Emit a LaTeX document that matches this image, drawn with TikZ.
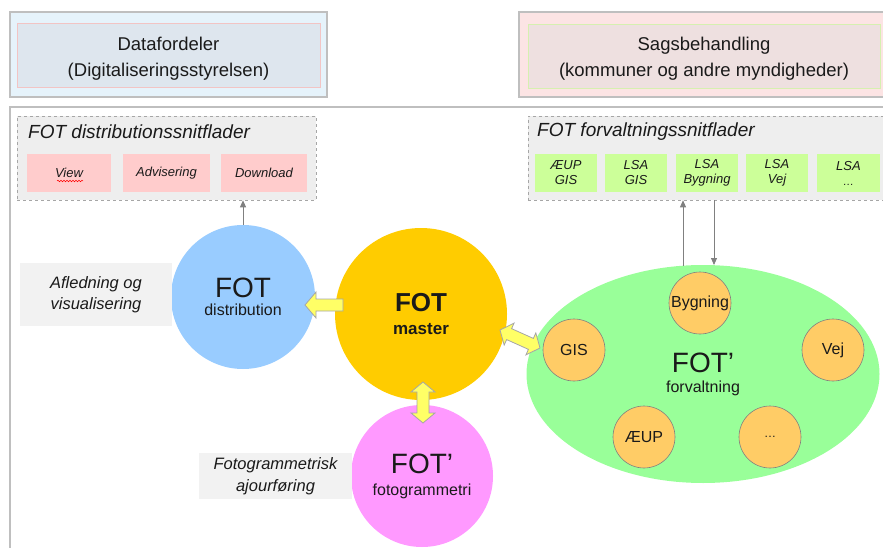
\documentclass[tikz,border=0pt]{standalone}
\usepackage{fontspec}
\setmainfont{Liberation Sans}
\usetikzlibrary{calc,shapes.geometric,arrows.meta,decorations.pathmorphing}
\definecolor{frameGray}{HTML}{BFBFBF}
\definecolor{dashGray}{HTML}{A6A6A6}
\definecolor{dashFill}{HTML}{EEEEEE}
\definecolor{dfOut}{HTML}{E6F3FB}
\definecolor{dfIn}{HTML}{DEE6EE}
\definecolor{dfInBorder}{HTML}{F2C4C4}
\definecolor{sbOut}{HTML}{FCE4E4}
\definecolor{sbIn}{HTML}{EEE0E0}
\definecolor{sbInBorder}{HTML}{D6F0B0}
\definecolor{pinkBox}{HTML}{FFCCCC}
\definecolor{greenBox}{HTML}{CCFF99}
\definecolor{distBlue}{HTML}{99CCFF}
\definecolor{masterYel}{HTML}{FFCC00}
\definecolor{fotoPink}{HTML}{FF99FF}
\definecolor{forvGreen}{HTML}{99FF99}
\definecolor{smallOr}{HTML}{FFCC66}
\definecolor{arrowYel}{HTML}{FFFF66}
\definecolor{labelGray}{HTML}{F2F2F2}
\definecolor{txt}{HTML}{1A1A1A}
\newcommand\fsz[1]{\fontsize{#1}{#1}\selectfont}
\newcommand\singleblock[2]{%
  \coordinate (sbh) at ($(#2)!11pt!(#1)$);
  \filldraw[blockarrow] ($(#1)!6pt!90:(#2)$) -- ($(sbh)!6pt!90:(#2)$) -- ($(sbh)!13pt!90:(#2)$) -- (#2)
     -- ($(sbh)!13pt!-90:(#2)$) -- ($(sbh)!6pt!-90:(#2)$) -- ($(#1)!6pt!-90:(#2)$) -- cycle;}
\newcommand\doubleblock[2]{%
  \coordinate (dbh1) at ($(#1)!10pt!(#2)$);
  \coordinate (dbh2) at ($(#2)!10pt!(#1)$);
  \filldraw[blockarrow] (#1) -- ($(dbh1)!12pt!90:(#2)$) -- ($(dbh1)!6pt!90:(#2)$) -- ($(dbh2)!6pt!90:(#2)$)
     -- ($(dbh2)!12pt!90:(#2)$) -- (#2) -- ($(dbh2)!12pt!-90:(#2)$) -- ($(dbh2)!6pt!-90:(#2)$)
     -- ($(dbh1)!6pt!-90:(#2)$) -- ($(dbh1)!12pt!-90:(#2)$) -- cycle;}
\begin{document}
\begin{tikzpicture}[x=1pt,y=-1pt,
  every node/.style={text=txt, inner sep=0pt},
  topout/.style={draw=frameGray, line width=1.6pt, minimum height=85pt},
  topin/.style={line width=0.8pt, minimum height=64pt},
  toptext/.style={align=center, font=\fsz{18.5}},
  dashbox/.style={draw=dashGray, dashed, fill=dashFill, line width=0.6pt, minimum height=84pt},
  dashtitle/.style={anchor=west, font=\fsz{19}\itshape},
  ifbox/.style={minimum height=38pt, align=center, font=\fsz{13}\itshape},
  bigcircle/.style={circle, align=center},
  smallcirc/.style={circle, draw=gray, line width=0.6pt, fill=smallOr, minimum size=62pt, font=\fsz{16}},
  label/.style={fill=labelGray, align=center, font=\fsz{16.5}\itshape},
  blockarrow/.style={fill=arrowYel, draw=dashGray, line width=0.8pt, line join=miter},
  thin link/.style={draw=gray, line width=0.8pt, -{Triangle[length=7pt,width=6pt]}}
]
\useasboundingbox (0,0) rectangle (883,548);

% top boxes
\node[topout, fill=dfOut, minimum width=317pt] (dfo) at (168.5,54.5) {};
\node[topin, draw=dfInBorder, fill=dfIn, minimum width=303pt] (dfi) at (168.5,55.5) {};
\node[toptext] (dft) at (168.5,58.5) {Datafordeler\\[7pt](Digitaliseringsstyrelsen)};
\node[topout, fill=sbOut, minimum width=380pt] (sbo) at (709,54.5) {};
\node[topin, draw=sbInBorder, fill=sbIn, minimum width=352pt] (sbi) at (704,56) {};
\node[toptext] (sbt) at (704,58.5) {Sagsbehandling\\[7pt](kommuner og andre myndigheder)};

% outer frame
\draw[frameGray, line width=1.6pt] (890,107) -- (10,107) -- (10,560);

% dashed interface boxes
\node[dashbox, minimum width=299pt] (ldash) at (166.5,158) {};
\node[dashtitle] (ltitle) at (28,132) {FOT distributionssnitflader};
\node[ifbox, fill=pinkBox, minimum width=84pt] (view) at (69,173) {View};
\node[ifbox, fill=pinkBox, minimum width=87pt] (advis) at (166.5,173) {Advisering};
\node[ifbox, fill=pinkBox, minimum width=86pt] (down) at (264,173) {Download};
\draw[red, line width=0.5pt, decorate, decoration={snake, amplitude=0.8pt, segment length=3pt}] (57,181) -- (83,181);

\node[dashbox, minimum width=370pt] (rdash) at (713,158) {};
\node[dashtitle] (rtitle) at (537,132) {FOT forvaltningssnitflader};
\node[ifbox, fill=greenBox, minimum width=62pt] (g1) at (566,173) {ÆUP\\[2pt]GIS};
\node[ifbox, fill=greenBox, minimum width=62pt] (g2) at (636,173) {LSA\\[2pt]GIS};
\node[ifbox, fill=greenBox, minimum width=62pt] (g3) at (707,173) {LSA\\[2pt]Bygning};
\node[ifbox, fill=greenBox, minimum width=62pt] (g4) at (777,173) {LSA\\[2pt]Vej};
\node[ifbox, fill=greenBox, minimum width=63pt] (g5) at (848.5,173) {LSA\\[2pt]\fsz{11}…};

% big circles
\node[bigcircle, fill=distBlue, minimum size=144pt] (dist) at (243,297)
  {{\fsz{28}FOT}\\[6pt]{\fsz{16}distribution}};
\node[bigcircle, fill=masterYel, minimum size=172pt] (master) at (421,314)
  {{\fsz{26}\bfseries FOT}\\[11pt]{\fsz{17}\bfseries master}};
\node[bigcircle, fill=fotoPink, minimum size=142pt] (foto) at (422,476)
  {{\fsz{28}FOT’}\\[10pt]{\fsz{16}fotogrammetri}};
\node[ellipse, fill=forvGreen, minimum width=353pt, minimum height=218pt, align=center] (forv) at (703,374)
  {{\fsz{28}FOT’}\\[8pt]{\fsz{16}forvaltning}};

% small circles
\node[smallcirc] (byg) at (700,303) {Bygning};
\node[smallcirc] (gis) at (574,350) {GIS};
\node[smallcirc] (vej) at (833,350) {Vej};
\node[smallcirc] (aeup) at (644,437) {ÆUP};
\node[smallcirc, font=\fsz{12}] (more) at (770,437) {…};

% labels
\node[label, minimum width=152pt, minimum height=63pt] (lab1) at (96,294.5) {Afledning og\\[5pt]visualisering};
\node[label, minimum width=153pt, minimum height=46pt] (lab2) at (275.5,476) {Fotogrammetrisk\\[6pt]ajourføring};

% thin connectors
\draw[thin link] (dist.north) -- (dist.north |- ldash.south);
\coordinate (upS) at (683,266);
\coordinate (dnE) at (714,265);
\draw[thin link] (upS) -- (upS |- rdash.south);
\draw[thin link] (dnE |- rdash.south) -- (dnE);

% block arrows
\coordinate (a1t) at (343,305);
\coordinate (a1h) at (305,305);
\singleblock{a1t}{a1h}
\coordinate (a2a) at (500,330);
\coordinate (a2b) at (540,348);
\doubleblock{a2a}{a2b}
\coordinate (a3a) at (423,382);
\coordinate (a3b) at (423,423);
\doubleblock{a3a}{a3b}
\end{tikzpicture}
\end{document}
